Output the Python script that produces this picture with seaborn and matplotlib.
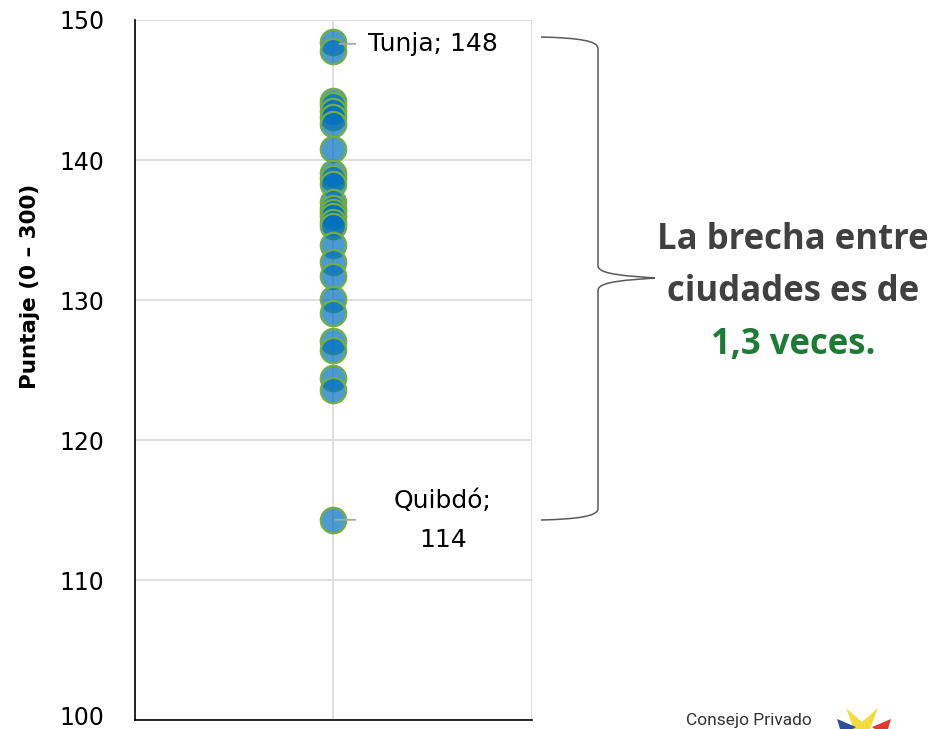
import matplotlib
matplotlib.use("Agg")
import matplotlib.pyplot as plt
from matplotlib.path import Path
from matplotlib.patches import PathPatch, Polygon
import matplotlib.transforms as mtransforms
import pandas as pd
import seaborn as sns

# puntaje por ciudad
ciudades = ['Tunja', 'C2', 'C3', 'C4', 'C5', 'C6', 'C7', 'C8', 'C9', 'C10',
            'C11', 'C12', 'C13', 'C14', 'C15', 'C16', 'C17', 'C18', 'C19',
            'C20', 'C21', 'C22', 'C23', 'C24', 'C25', 'C26', 'Quibdó']
puntaje = [148.4, 147.8, 144.2, 143.9, 143.5, 143.1, 142.6, 140.8, 139.1,
           138.7, 138.3, 137.0, 136.6, 136.3, 136.0, 135.6, 135.3, 133.9,
           132.7, 131.7, 130.1, 129.1, 127.1, 126.4, 124.4, 123.6, 114.3]
y_ticks = [100, 110, 120, 130, 140, 150]

W, H = 933, 729
sns.set_style("white")
plt.rcParams['font.family'] = ['DejaVu Sans']

df = pd.DataFrame({'ciudad': ciudades, 'puntaje': puntaje, 'x': 1})

fig = plt.figure(figsize=(W / 100, H / 100), dpi=100)
ax = fig.add_axes([135 / W, 1 - 720 / H, (532 - 135) / W, 700 / H])

sns.scatterplot(data=df, x='x', y='puntaje', ax=ax, s=330,
                color='#0070C0', edgecolor='#70AD47', linewidth=1.7,
                zorder=3, legend=False)
ax.collections[0].set_facecolor((0.0, 0.44, 0.75, 0.7))

ax.set_xlim(0, 2)
ax.set_ylim(100, 150)
ax.set_yticks(y_ticks)
ax.set_xticks([0, 1, 2])
ax.set_xticklabels([])
ax.set_xlabel('')
ax.set_ylabel('')
ax.grid(True, color='#D9D9D9', linewidth=1.2, zorder=0)
ax.set_axisbelow(True)
for s in ['top', 'right']:
    ax.spines[s].set_visible(False)
for s in ['left', 'bottom']:
    ax.spines[s].set_color('black')
    ax.spines[s].set_linewidth(1.2)
ax.tick_params(axis='y', length=0, labelsize=17, pad=22, labelcolor='black')
ax.tick_params(axis='x', length=6, width=1.2, direction='out', color='black')
# el 100 queda pegado al borde inferior: subirlo un poco
lab100 = ax.get_yticklabels()[0]
lab100.set_transform(lab100.get_transform() +
                     mtransforms.ScaledTranslation(0, 3 / 72, fig.dpi_scale_trans))

fig.text(30 / W, 1 - 286 / H, 'Puntaje (0 – 300)', rotation=90, ha='center',
         va='center', fontsize=15.5, fontweight='bold', color='black')

# etiquetas de los extremos
top = df.iloc[0]
bot = df.iloc[-1]
line_kw = dict(arrowstyle='-', color='#A6A6A6', lw=1.3, shrinkA=0, shrinkB=0)
ax.annotate('', xy=(1.03, top['puntaje'] - 0.1), xytext=(1.11, top['puntaje'] - 0.1),
            arrowprops=line_kw)
ax.text(1.175, top['puntaje'] - 0.15, f"{top['ciudad']}; {top['puntaje']:.0f}",
        fontsize=18, va='center', ha='left', color='black')
ax.annotate('', xy=(1.01, bot['puntaje']), xytext=(1.11, bot['puntaje']),
            arrowprops=line_kw)
ax.text(1.55, bot['puntaje'] - 0.05, f"{bot['ciudad']};\n{bot['puntaje']:.0f}",
        fontsize=18, ha='center', va='center', linespacing=1.75, color='black')

# capa en píxeles para la llave, el texto y el logo
ov = fig.add_axes([0, 0, 1, 1], facecolor='none')
ov.set_xlim(0, W)
ov.set_ylim(H, 0)
ov.axis('off')

verts = [(541, 37), (580, 38), (597, 41), (598, 48),
         (598, 266),
         (599, 275), (630, 276), (655, 278),
         (630, 280), (599, 281), (598, 290),
         (598, 509),
         (597, 516), (580, 519), (541, 520)]
codes = [Path.MOVETO, Path.CURVE4, Path.CURVE4, Path.CURVE4,
         Path.LINETO,
         Path.CURVE4, Path.CURVE4, Path.CURVE4,
         Path.CURVE4, Path.CURVE4, Path.CURVE4,
         Path.LINETO,
         Path.CURVE4, Path.CURVE4, Path.CURVE4]
ov.add_patch(PathPatch(Path(verts, codes), fill=False, edgecolor='#595959', lw=1.1))

kw = dict(ha='center', va='center', fontsize=25, fontweight='bold',
          family=['Open Sans', 'DejaVu Sans'])
ov.text(793, 240, 'La brecha entre', color='#404040', **kw)
ov.text(793, 292, 'ciudades es de', color='#404040', **kw)
ov.text(793, 345, '1,3 veces.', color='#1E7B36', **kw)

ov.text(749, 713, 'Consejo Privado', ha='center', va='top', fontsize=12.5,
        color='#333333', family=['Roboto', 'DejaVu Sans'])
ov.add_patch(Polygon([(846, 708), (862, 722), (878, 708), (870, 729), (854, 729)],
                     closed=True, color='#F2DC3C', lw=0))
ov.add_patch(Polygon([(837, 719), (856, 727), (853, 729), (840, 729)],
                     closed=True, color='#2E4F9E', lw=0))
ov.add_patch(Polygon([(891, 719), (872, 727), (875, 729), (888, 729)],
                     closed=True, color='#E03A2E', lw=0))

fig.savefig('out.png', dpi=100)
